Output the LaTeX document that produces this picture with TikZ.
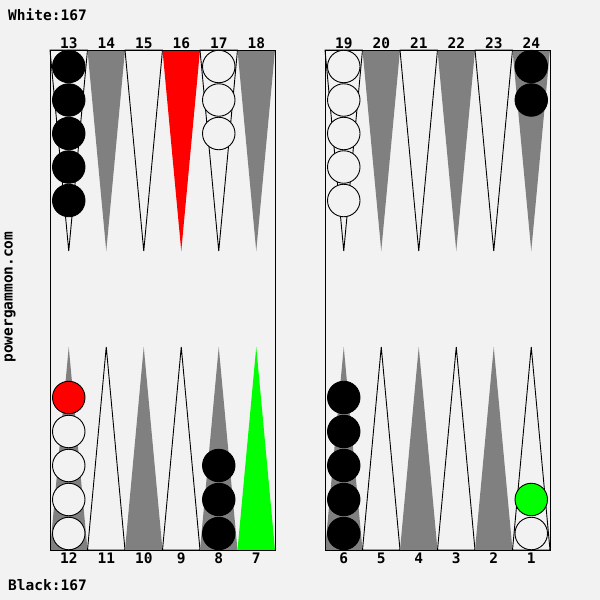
\documentclass[tikz,border=0pt]{standalone}
\usepackage{fontspec}
\setmonofont{DejaVu Sans Mono}
\definecolor{bg}{HTML}{F2F2F2}
\definecolor{ptgray}{HTML}{808080}
\definecolor{hlred}{HTML}{FF0000}
\definecolor{hlgreen}{HTML}{00FF00}
\begin{document}
\begin{tikzpicture}[x=1pt,y=-1pt,
  wpt/.style={draw=black,line width=0.9pt,fill=bg},
  gpt/.style={fill=ptgray},
  rpt/.style={fill=hlred},
  grpt/.style={fill=hlgreen},
  board/.style={draw=black,line width=1pt},
  chk/.style={circle,draw=black,line width=0.9pt,minimum size=32.5pt,inner sep=0pt},
  bchk/.style={chk,fill=black},
  wchk/.style={chk,fill=bg},
  rchk/.style={chk,fill=hlred},
  gchk/.style={chk,fill=hlgreen},
  lbl/.style={font=\fontsize{14.5}{16}\selectfont\ttfamily\bfseries,inner sep=0pt,anchor=base},
  lbll/.style={lbl,anchor=base west}]
\useasboundingbox (0,0) rectangle (600,600);
\fill[bg] (0,0) rectangle (600,600);
% top points
\foreach \x/\s in {50/wpt,87.5/gpt,125/wpt,162.5/rpt,200/wpt,237.5/gpt,325/wpt,362.5/gpt,400/wpt,437.5/gpt,475/wpt,512.5/gpt}
  \path[\s] (\x,50) -- (\x+37.5,50) -- (\x+18.75,251) -- cycle;
% bottom points
\foreach \x/\s in {50/gpt,87.5/wpt,125/gpt,162.5/wpt,200/gpt,237.5/grpt,325/gpt,362.5/wpt,400/gpt,437.5/wpt,475/gpt,512.5/wpt}
  \path[\s] (\x,550) -- (\x+37.5,550) -- (\x+18.75,347) -- cycle;
% boards
\draw[board] (50,50) rectangle (275,550);
\draw[board] (325,50) rectangle (550,550);
% checkers top
\foreach \i/\y in {1/66.5,2/100,3/133.5,4/167,5/200.5} \node[bchk] (p13c\i) at (68.75,\y) {};
\foreach \i/\y in {1/66.5,2/100,3/133.5} \node[wchk] (p17c\i) at (218.75,\y) {};
\foreach \i/\y in {1/66.5,2/100,3/133.5,4/167,5/200.5} \node[wchk] (p19c\i) at (343.75,\y) {};
\foreach \i/\y in {1/66.5,2/100} \node[bchk] (p24c\i) at (531.25,\y) {};
% checkers bottom
\foreach \i/\y in {1/533.5,2/499.5,3/465.5,4/431.5} \node[wchk] (p12c\i) at (68.75,\y) {};
\node[rchk] (p12c5) at (68.75,397.5) {};
\foreach \i/\y in {1/533.5,2/499.5,3/465.5} \node[bchk] (p8c\i) at (218.75,\y) {};
\foreach \i/\y in {1/533.5,2/499.5,3/465.5,4/431.5,5/397.5} \node[bchk] (p6c\i) at (343.75,\y) {};
\node[wchk] (p1c1) at (531.25,533.5) {};
\node[gchk] (p1c2) at (531.25,499.5) {};
% numbers
\foreach \n [count=\k from 0] in {13,14,15,16,17,18}
  \node[lbl] (t\n) at (68.75+37.5*\k,48.5) {\n};
\foreach \n [count=\k from 0] in {19,20,21,22,23,24}
  \node[lbl] (t\n) at (343.75+37.5*\k,48.5) {\n};
\foreach \n [count=\k from 0] in {12,11,10,9,8,7}
  \node[lbl] (b\n) at (68.75+37.5*\k,563) {\n};
\foreach \n [count=\k from 0] in {6,5,4,3,2,1}
  \node[lbl] (b\n) at (343.75+37.5*\k,563) {\n};
\node[lbll] (white) at (8,20) {White:167};
\node[lbll] (black) at (8,590.5) {Black:167};
\node[lbl,rotate=90,anchor=center] (site) at (10,297) {powergammon.com};
\end{tikzpicture}
\end{document}
